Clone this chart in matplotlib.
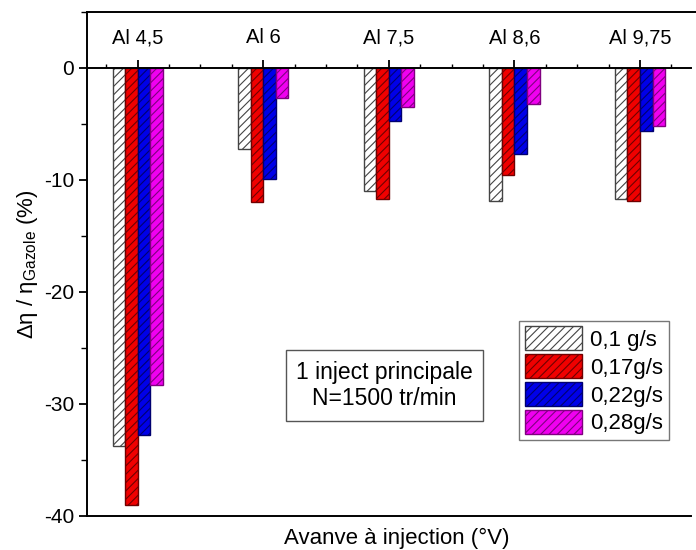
import numpy as np
import matplotlib
matplotlib.use('Agg')
import matplotlib.pyplot as plt
from matplotlib.ticker import MultipleLocator

plt.rcParams['font.family'] = ['Liberation Sans', 'DejaVu Sans']
plt.rcParams['mathtext.default'] = 'regular'
plt.rcParams['hatch.linewidth'] = 0.8
plt.rcParams['axes.unicode_minus'] = False

# Données (variation de rendement par rapport au gazole, %)
categories = ['Al 4,5', 'Al 6', 'Al 7,5', 'Al 8,6', 'Al 9,75']
debit_01 = [-33.8, -7.2, -11.0, -11.9, -11.7]
debit_017 = [-39.1, -12.0, -11.7, -9.6, -11.85]
debit_022 = [-32.8, -9.9, -4.7, -7.7, -5.65]
debit_028 = [-28.3, -2.7, -3.45, -3.2, -5.2]
labels = ['0,1 g/s', '0,17g/s', '0,22g/s', '0,28g/s']

series = [debit_01, debit_017, debit_022, debit_028]
faces = ['white', '#f00000', '#0000e8', '#f000f0']
edges = ['#444444', '#700000', '#000070', '#800080']

fig = plt.figure(figsize=(6.96, 5.5), dpi=100)
ax = fig.add_axes([0.1246, 0.0627, 0.8682, 0.9155])

x = np.arange(len(categories))
w = 0.1
for i, (vals, fc, ec, lab) in enumerate(zip(series, faces, edges, labels)):
    ax.bar(x + (i - 1.5) * w, vals, width=w, color=fc, edgecolor=ec,
           hatch='////', linewidth=1.0, label=lab, zorder=2)

ax.set_xlim(-0.406, 4.406)
ax.set_ylim(-40, 5.0)

# axe des x sur la ligne zéro, étiquettes au-dessus
ax.spines['top'].set_position(('data', 0))
ax.spines['right'].set_visible(False)
for s in ['top', 'left', 'bottom']:
    ax.spines[s].set_linewidth(1.4)
ax.plot([0, 1.01], [1, 1], transform=ax.transAxes, color='black', lw=1.4, clip_on=False)

ax.xaxis.set_ticks_position('top')
ax.set_xticks(x)
ax.set_xticklabels(categories)
ax.xaxis.set_minor_locator(MultipleLocator(0.25))
ax.tick_params(axis='x', which='major', direction='out', length=6, width=1.3,
               labelsize=14.5, pad=9)
ax.tick_params(axis='x', which='minor', direction='out', length=3, width=1.0)

ax.yaxis.set_major_locator(MultipleLocator(10))
ax.yaxis.set_minor_locator(MultipleLocator(5))
ax.tick_params(axis='y', which='major', direction='out', length=6, width=1.3,
               labelsize=15, pad=3)
ax.tick_params(axis='y', which='minor', direction='out', length=4, width=1.0)

ax.set_ylabel('Δη / η$_{Gazole}$ (%)', fontsize=16)
ax.yaxis.set_label_coords(-0.078, 0.5)
fig.text(0.57, 0.021, 'Avanve à injection (°V)', fontsize=16, ha='center', va='center')

fig.text(384.5 / 696, 1 - 385.5 / 550, '1 inject principale\nN=1500 tr/min', fontsize=16.5,
         ha='center', va='center', multialignment='center', linespacing=1.2,
         bbox=dict(boxstyle='square,pad=0.45', fc='white', ec='#555555', lw=1.0))

leg = ax.legend(loc='upper left', bbox_to_anchor=(519 / 696, 1 - 320.7 / 550),
                bbox_transform=fig.transFigure, fontsize=16, frameon=True,
                fancybox=False, edgecolor='#555555', handlelength=2.6,
                handleheight=1.3, labelspacing=0.15, handletextpad=0.35,
                borderpad=0.25, borderaxespad=0)
leg.get_frame().set_linewidth(1.0)

fig.savefig('out.png', dpi=100)
